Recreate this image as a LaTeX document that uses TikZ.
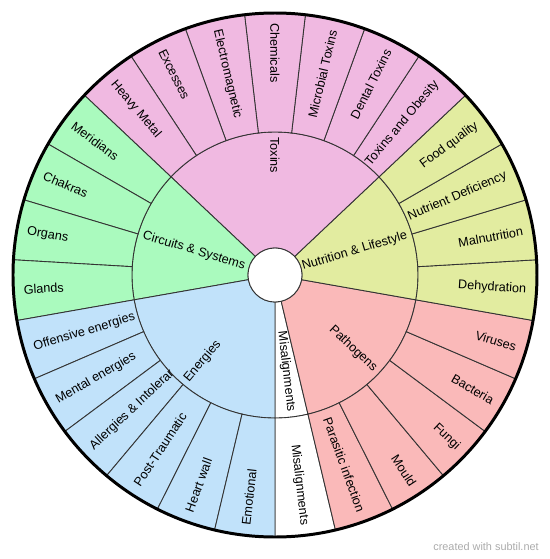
\documentclass[tikz,border=0pt]{standalone}
\usepackage{fontspec}
\setmainfont{Liberation Sans}

\definecolor{toxpink}{RGB}{240,185,225}
\definecolor{nutyellow}{RGB}{226,236,160}
\definecolor{pathred}{RGB}{250,185,185}
\definecolor{circgreen}{RGB}{170,250,190}
\definecolor{enblue}{RGB}{193,226,250}

\begin{document}
\begin{tikzpicture}[x=0.02cm,y=0.02cm,
    seg/.style={draw=black!80,line width=0.5pt},
    lbl/.style={inner sep=0pt,font=\fontsize{7.2}{8.6}\selectfont}]

\useasboundingbox (-275,-284) rectangle (275,275);

% categories (inner ring)
\foreach \a/\b/\col/\txt in {0/1/white/Misalignments, 1/6/pathred/Pathogens,
    6/10/nutyellow/Nutrition \& Lifestyle, 10/17/toxpink/Toxins,
    17/21/circgreen/Circuits \& Systems, 21/27/enblue/Energies}{
  \pgfmathsetmacro\s{270+\a*40/3}
  \pgfmathsetmacro\e{270+\b*40/3}
  \pgfmathsetmacro\m{mod(270+(\a+\b)*20/3,360)}
  \filldraw[seg,fill=\col] (\s:27) -- (\s:143) arc[start angle=\s,end angle=\e,radius=143]
    -- (\e:27) arc[start angle=\e,end angle=\s,radius=27] -- cycle;
  \pgfmathtruncatemacro\flip{(\m>89)&&(\m<271)}
  \ifnum\flip=1 \pgfmathsetmacro\rot{\m-180}\def\anc{west}\else\let\rot\m\def\anc{east}\fi
  \node[lbl,rotate=\rot,anchor=\anc] (cat\a) at (\m:138) {\txt};
}

% leaves (outer ring)
\foreach \i/\col/\txt in {0/white/Misalignments, 1/pathred/Parasitic infection,
    2/pathred/Mould, 3/pathred/Fungi, 4/pathred/Bacteria, 5/pathred/Viruses,
    6/nutyellow/Dehydration, 7/nutyellow/Malnutrition, 8/nutyellow/Nutrient Deficiency,
    9/nutyellow/Food quality, 10/toxpink/Toxins and Obesity, 11/toxpink/Dental Toxins,
    12/toxpink/Microbial Toxins, 13/toxpink/Chemicals, 14/toxpink/Electromagnetic,
    15/toxpink/Excesses, 16/toxpink/Heavy Metal, 17/circgreen/Meridians,
    18/circgreen/Chakras, 19/circgreen/Organs, 20/circgreen/Glands,
    21/enblue/Offensive energies, 22/enblue/Mental energies,
    23/enblue/Allergies \& Intolerar, 24/enblue/Post-Traumatic,
    25/enblue/Heart wall, 26/enblue/Emotional}{
  \pgfmathsetmacro\s{270+\i*40/3}
  \pgfmathsetmacro\e{270+(\i+1)*40/3}
  \pgfmathsetmacro\m{mod(270+(\i+0.5)*40/3,360)}
  \filldraw[seg,fill=\col] (\s:143) -- (\s:262) arc[start angle=\s,end angle=\e,radius=262]
    -- (\e:143) arc[start angle=\e,end angle=\s,radius=143] -- cycle;
  \pgfmathtruncatemacro\flip{(\m>89)&&(\m<271)}
  \ifnum\flip=1 \pgfmathsetmacro\rot{\m-180}\def\anc{west}\else\let\rot\m\def\anc{east}\fi
  \node[lbl,rotate=\rot,anchor=\anc] (leaf\i) at (\m:252) {\txt};
}

\draw[line width=1.7pt] (0,0) circle[radius=262];
\filldraw[seg,fill=white] (0,0) circle[radius=27];

\node[font=\fontsize{6.2}{7}\selectfont,text=black!33] (credit) at (211,-272) {created with subtil.net};
\end{tikzpicture}
\end{document}
